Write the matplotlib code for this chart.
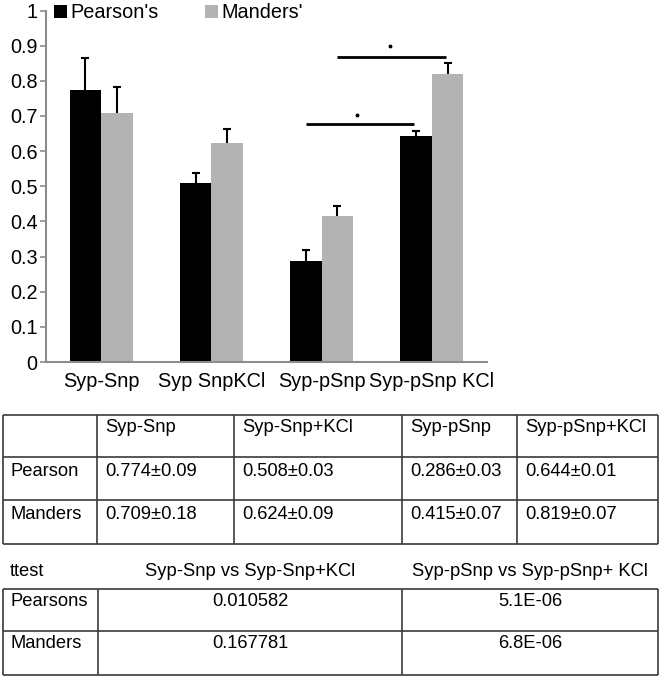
import numpy as np
import matplotlib.pyplot as plt

plt.rcParams['font.family'] = ['Liberation Sans', 'DejaVu Sans']

# data
groups = ['Syp-Snp', 'Syp SnpKCl', 'Syp-pSnp', 'Syp-pSnp KCl']
pearson = [0.774, 0.508, 0.286, 0.644]
pearson_err = [0.09, 0.03, 0.034, 0.013]
manders = [0.709, 0.624, 0.415, 0.819]
manders_err = [0.073, 0.04, 0.03, 0.031]

tab1_cols = ['', 'Syp-Snp', 'Syp-Snp+KCl', 'Syp-pSnp', 'Syp-pSnp+KCl']
tab1_rows = [
    ['Pearson', '0.774±0.09', '0.508±0.03', '0.286±0.03', '0.644±0.01'],
    ['Manders', '0.709±0.18', '0.624±0.09', '0.415±0.07', '0.819±0.07'],
]
tab2_cols = ['ttest', 'Syp-Snp vs Syp-Snp+KCl', 'Syp-pSnp vs Syp-pSnp+ KCl']
tab2_rows = [
    ['Pearsons', '0.010582', '5.1E-06'],
    ['Manders', '0.167781', '6.8E-06'],
]

W, H = 666, 678
fig = plt.figure(figsize=(W / 100, H / 100), dpi=100)
ax = fig.add_axes([46 / W, 1 - 362 / H, 441 / W, 351.5 / H])

x = np.arange(len(groups))
bw = 0.285
grey = '#b3b3b3'
axc = '#8c8c8c'
cfs = 14.3

b1 = ax.bar(x - bw / 2, pearson, bw, color='black', label="Pearson's")
b2 = ax.bar(x + bw / 2, manders, bw, color=grey, label="Manders'")
for xs, vals, errs in [(x - bw / 2, pearson, pearson_err), (x + bw / 2, manders, manders_err)]:
    eb = ax.errorbar(xs, vals, yerr=[np.zeros(4), errs], fmt='none',
                     ecolor='black', elinewidth=1.5, capsize=3, capthick=1.5)
    # only the upper cap
    eb[1][0].set_visible(False)

# significance lines
ax.plot([1.855, 2.836], [0.676, 0.676], color='black', lw=2, solid_capstyle='butt')
ax.plot([2.136, 3.127], [0.869, 0.869], color='black', lw=2, solid_capstyle='butt')
ax.plot([2.32, 2.62], [0.702, 0.898], 'o', color='black', ms=1.8, ls='none')

ax.set_xlim(-0.5, 3.5)
ax.set_ylim(0, 1)
ax.set_yticks(np.arange(0, 1.01, 0.1))
ax.set_yticklabels(['0'] + ['%.1f' % v for v in np.arange(0.1, 0.95, 0.1)] + ['1'])
ax.set_xticks(x)
ax.set_xticklabels(groups)
for s in ['top', 'right']:
    ax.spines[s].set_visible(False)
for s in ['left', 'bottom']:
    ax.spines[s].set_color(axc)
    ax.spines[s].set_linewidth(1.5)
ax.tick_params(axis='y', length=4.5, width=1.2, color=axc, pad=1.5, labelsize=cfs)
ax.tick_params(axis='x', length=0, pad=7, labelsize=cfs)

ax.legend(handles=[b1, b2], loc='center left', bbox_to_anchor=(0.018, 0.993),
          ncol=2, frameon=False, fontsize=cfs, handlelength=0.65, handleheight=0.65,
          handletextpad=0.2, columnspacing=2.3, borderpad=0, borderaxespad=0)

# tables, drawn in pixel coordinates
tax = fig.add_axes([0, 0, 1, 1])
tax.set_xlim(0, W)
tax.set_ylim(H, 0)
tax.axis('off')
lc = '#3a3a3a'
fs = 13.2

c1 = [3, 97, 234, 402, 517, 658]
r1 = [415, 457, 500, 544]
tax.hlines(r1, c1[0], c1[-1], color=lc, lw=1.2)
tax.vlines(c1, r1[0], r1[-1], color=lc, lw=1.2)
for j, t in enumerate(tab1_cols):
    tax.text(c1[j] + 8, r1[0] + 17, t, fontsize=fs, va='baseline')
for i, row in enumerate(tab1_rows):
    for j, t in enumerate(row):
        tax.text(c1[j] + 8, r1[i + 1] + 19, t, fontsize=fs, va='baseline')

c2 = [3, 98, 402, 658]
r2 = [589, 631, 675]
tax.hlines(r2, c2[0], c2[-1], color=lc, lw=1.2)
tax.vlines(c2, r2[0], r2[-1], color=lc, lw=1.2)
tax.text(10, 576, tab2_cols[0], fontsize=fs, va='baseline')
for j in (1, 2):
    tax.text((c2[j] + c2[j + 1]) / 2, 576, tab2_cols[j], fontsize=fs,
             va='baseline', ha='center')
for i, row in enumerate(tab2_rows):
    tax.text(c2[0] + 8, r2[i] + 17, row[0], fontsize=fs, va='baseline')
    for j in (1, 2):
        tax.text((c2[j] + c2[j + 1]) / 2, r2[i] + 17, row[j], fontsize=fs,
                 va='baseline', ha='center')

fig.savefig('out.png', dpi=100)
